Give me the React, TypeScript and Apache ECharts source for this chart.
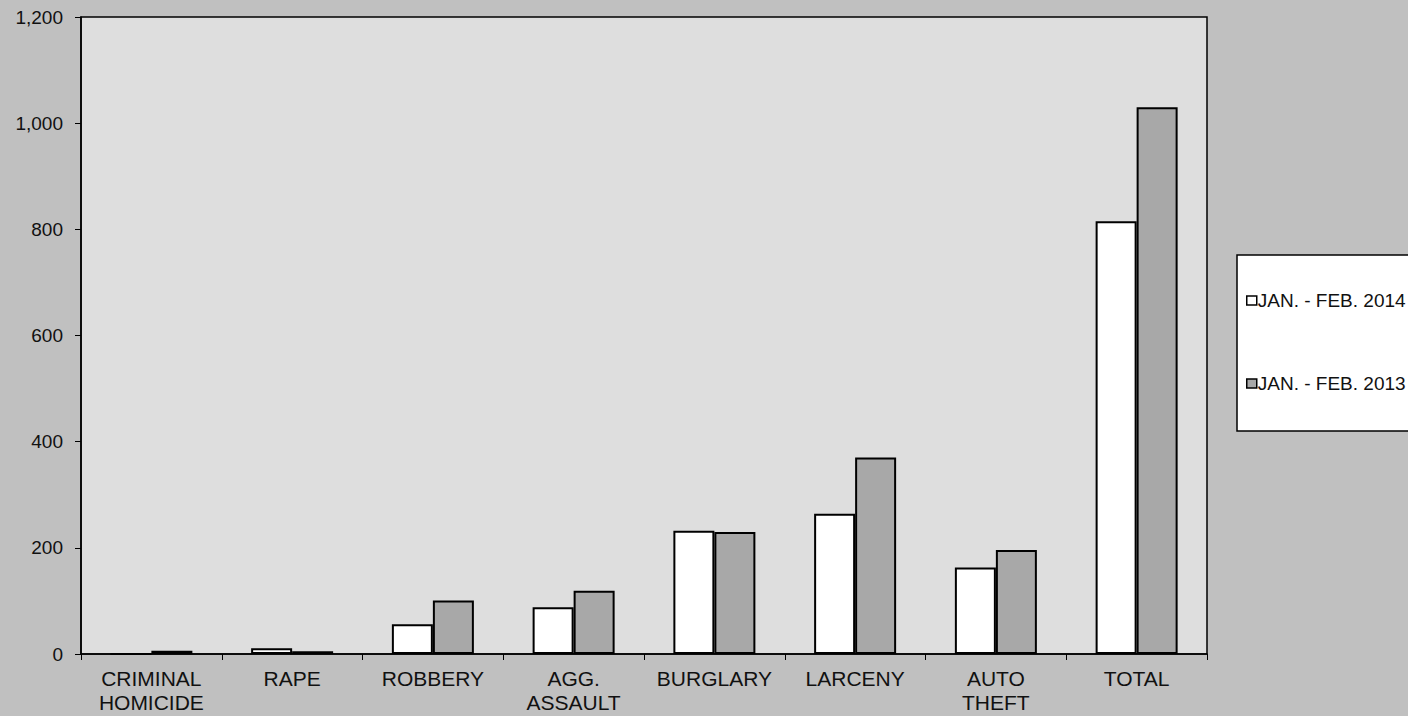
import React, { useEffect, useRef } from "react";
import * as echarts from "echarts";

const categories = [
  "CRIMINAL\nHOMICIDE",
  "RAPE",
  "ROBBERY",
  "AGG.\nASSAULT",
  "BURGLARY",
  "LARCENY",
  "AUTO\nTHEFT",
  "TOTAL",
];
const series2014 = [0, 11, 56, 88, 232, 264, 163, 815];
const series2013 = [6, 5, 101, 119, 230, 370, 196, 1030];
const seriesNames = ["JAN. - FEB. 2014", "JAN. - FEB. 2013"];
const yTicks = { min: 0, max: 1200, interval: 200 };

export default function App() {
  const ref = useRef<HTMLDivElement>(null);
  useEffect(() => {
    document.body.style.margin = "0";
    const chart = echarts.init(ref.current!, null, { renderer: "svg" });
    const font = "'Liberation Sans', Arial, sans-serif";
    chart.setOption({
      animation: false,
      backgroundColor: "#c0c0c0",
      textStyle: { fontFamily: font },
      grid: {
        left: 81,
        right: 201,
        top: 17,
        bottom: 62,
        show: true,
        backgroundColor: "#dedede",
        borderColor: "#000",
        borderWidth: 1.5,
      },
      legend: {
        orient: "vertical",
        left: 1237,
        top: 255,
        backgroundColor: "#ffffff",
        borderColor: "#000",
        borderWidth: 1.5,
        padding: [36, 30, 38, 9],
        itemGap: 64,
        itemWidth: 10,
        itemHeight: 9,
        icon: "rect",
        textStyle: { fontSize: 19, color: "#111", fontFamily: font, padding: [0, 0, 0, -4] },
        data: [
          { name: seriesNames[0], itemStyle: { color: "#ffffff", borderColor: "#000", borderWidth: 1.5 } },
          { name: seriesNames[1], itemStyle: { color: "#a8a8a8", borderColor: "#000", borderWidth: 1.5 } },
        ],
      },
      xAxis: {
        type: "category",
        data: categories,
        axisLine: { lineStyle: { color: "#000", width: 1.5 } },
        axisTick: { show: true, length: 6, lineStyle: { color: "#000" } },
        axisLabel: {
          color: "#111",
          fontSize: 21,
          lineHeight: 24,
          margin: 12,
          interval: 0,
          fontFamily: font,
        },
      },
      yAxis: {
        type: "value",
        min: yTicks.min,
        max: yTicks.max,
        interval: yTicks.interval,
        splitLine: { show: false },
        axisLine: { show: true, lineStyle: { color: "#000", width: 1.5 } },
        axisTick: { show: true, length: 6, lineStyle: { color: "#000" } },
        axisLabel: {
          color: "#111",
          fontSize: 19,
          margin: 18,
          fontFamily: font,
          formatter: (v: number) => v.toLocaleString("en-US"),
        },
      },
      series: [
        {
          name: seriesNames[0],
          type: "bar",
          data: series2014,
          barWidth: 41,
          barGap: "0%",
          itemStyle: { color: "#ffffff", borderColor: "#000", borderWidth: 2 },
        },
        {
          name: seriesNames[1],
          type: "bar",
          data: series2013,
          barWidth: 41,
          barGap: "0%",
          itemStyle: { color: "#a8a8a8", borderColor: "#000", borderWidth: 2 },
        },
      ],
    });
    return () => chart.dispose();
  }, []);
  return <div ref={ref} style={{ width: 1408, height: 716 }} />;
}
